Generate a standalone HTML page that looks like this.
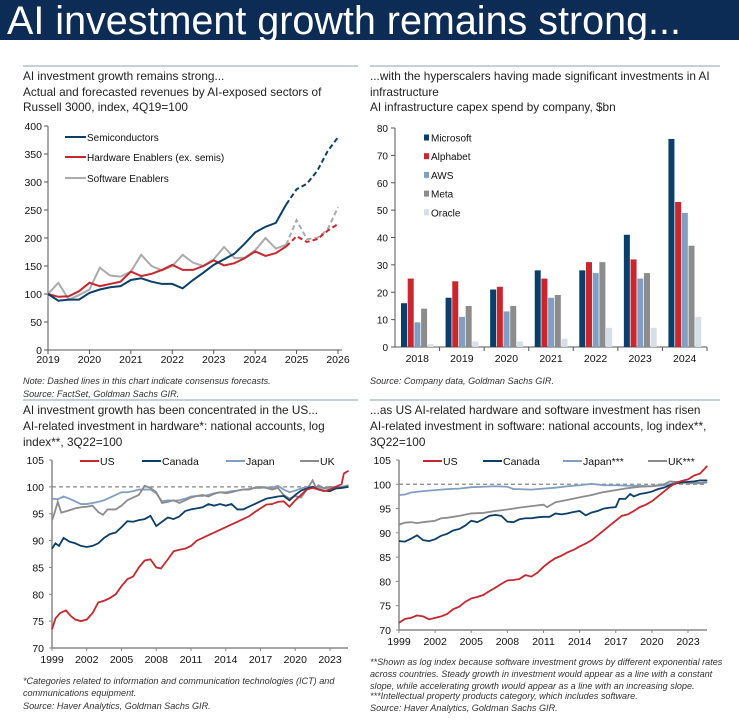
<!DOCTYPE html>
<html><head><meta charset="utf-8"><style>
body{margin:0;width:739px;height:719px;background:#fff;overflow:hidden;font-family:"Liberation Sans",Arial,sans-serif}
svg text{font-family:"Liberation Sans",Arial,sans-serif}
</style></head><body>
<svg id="s" width="739" height="719" xmlns="http://www.w3.org/2000/svg">
<rect x="0" y="0" width="739" height="40" fill="#0c2b55"/>
<text x="7" y="34" font-size="39.5" fill="#fff">AI investment growth remains strong...</text>

<g font-size="11.8" fill="#222">
<line x1="23" y1="66" x2="358" y2="66" stroke="#8aa0b8"/>
<text x="23" y="80">AI investment growth remains strong...</text>
<text x="23" y="96">Actual and forecasted revenues by AI-exposed sectors of</text>
<text x="23" y="111">Russell 3000, index, 4Q19=100</text>
</g>
<g font-size="11.8" fill="#222">
<line x1="370" y1="66" x2="720" y2="66" stroke="#8aa0b8"/>
<text x="370" y="80">...with the hyperscalers having made significant investments in AI</text>
<text x="370" y="96">infrastructure</text>
<text x="370" y="111">AI infrastructure capex spend by company, $bn</text>
</g>
<g font-size="11.8" fill="#222">
<line x1="23" y1="400" x2="358" y2="400" stroke="#8aa0b8"/>
<text x="23" y="414">AI investment growth has been concentrated in the US...</text>
<text x="23" y="430">AI-related investment in hardware*: national accounts, log</text>
<text x="23" y="446">index**, 3Q22=100</text>
</g>
<g font-size="11.8" fill="#222">
<line x1="370" y1="400" x2="720" y2="400" stroke="#8aa0b8"/>
<text x="370" y="414">...as US AI-related hardware and software investment has risen</text>
<text x="370" y="430">AI-related investment in software: national accounts, log index**,</text>
<text x="370" y="446">3Q22=100</text>
</g>

<g font-size="9.1" font-style="italic" fill="#333">
<text x="23" y="384">Note: Dashed lines in this chart indicate consensus forecasts.</text>
<text x="23" y="397">Source: FactSet, Goldman Sachs GIR.</text>
<text x="370" y="384">Source: Company data, Goldman Sachs GIR.</text>
<text x="23" y="684">*Categories related to information and communication technologies (ICT) and</text>
<text x="23" y="696">communications equipment.</text>
<text x="23" y="709">Source: Haver Analytics, Goldman Sachs GIR.</text>
<text x="370" y="665">**Shown as log index because software investment grows by different exponential rates</text>
<text x="370" y="677">across countries. Steady growth in investment would appear as a line with a constant</text>
<text x="370" y="689">slope, while accelerating growth would appear as a line with an increasing slope.</text>
<text x="370" y="699">***Intellectual property products category, which includes software.</text>
<text x="370" y="711">Source: Haver Analytics, Goldman Sachs GIR.</text>
</g>
</svg>
<script>
// ---- Panel 1 data (quarterly, 4Q19 .. 4Q26) ----
const p1Years=[2019,2020,2021,2022,2023,2024,2025,2026];
const p1Ticks=[0,50,100,150,200,250,300,350,400];
const p1Semis=[100,88,90,90,102,108,112,114,125,128,122,118,118,110,125,138,152,162,172,190,210,220,227,260,287,297,320,355,380];
const p1Hardware=[100,95,96,105,120,114,118,122,140,132,136,143,152,143,143,150,160,151,155,164,176,168,173,185,203,193,198,213,225];
const p1Software=[100,120,90,98,108,147,133,131,140,170,150,142,150,170,156,150,162,184,164,165,178,200,181,188,232,198,200,215,255];
const p1ForecastStart=23;
// ---- Panel 2 data ----
const p2Years=["2018","2019","2020","2021","2022","2023","2024"];
const p2Ticks=[0,10,20,30,40,50,60,70,80];
const p2Companies=["Microsoft","Alphabet","AWS","Meta","Oracle"];
const p2Microsoft=[16,18,21,28,28,41,76];
const p2Alphabet=[25,24,22,25,31,32,53];
const p2AWS=[9,11,13,18,27,25,49];
const p2Meta=[14,15,15,19,31,27,37];
const p2Oracle=[1,2,2,3,7,7,11];
// ---- Panel 3 data (hardware) ----
const p3Ticks=[70,75,80,85,90,95,100,105];
const p3XTicks=[1999,2002,2005,2008,2011,2014,2017,2020,2023];
const hwUSx=[1999,1999.3,1999.7,2000.2,2000.6,2001,2001.5,2002,2002.5,2003,2003.5,2004,2004.5,2005,2005.5,2006,2006.5,2007,2007.5,2008,2008.4,2009,2009.5,2010,2010.5,2011,2011.5,2012,2012.5,2013,2013.5,2014,2014.5,2015,2015.5,2016,2016.5,2017,2017.5,2018,2018.5,2019,2019.5,2020,2020.5,2021,2021.5,2022,2022.5,2023,2023.5,2024,2024.2,2024.6];
const hwUS=[73.5,75.5,76.5,77,76,75.3,75,75.3,76.5,78.5,78.8,79.3,80,81.5,82.8,83.3,85,86.3,86.5,85,84.8,86.5,88,88.3,88.5,89,90,90.5,91,91.5,92,92.5,93,93.5,94,94.5,95.3,96,96.7,96.8,97.2,97.3,96.3,97.5,98.5,99.5,99.8,99.5,99.2,99.5,100,100.5,102.5,103];
const hwCAx=[1999,1999.3,1999.6,2000,2000.5,2001,2001.5,2002,2002.5,2003,2003.5,2004,2004.5,2005,2005.5,2006,2006.5,2007,2007.5,2008,2008.5,2009,2009.5,2010,2010.5,2011,2011.5,2012,2012.5,2013,2013.5,2014,2014.5,2015,2015.5,2016,2016.5,2017,2017.5,2018,2018.5,2019,2019.5,2020,2020.5,2021,2021.5,2022,2022.5,2023,2023.5,2024,2024.6];
const hwCA=[88.5,89.5,89,90.5,89.8,89.5,89,88.8,89,89.5,90.5,91.2,91.5,92.5,93.6,93.5,93.8,94,94.6,92.7,93.5,94.3,94,94.5,95.5,95.8,96,96.2,96.8,96.5,96.8,96.5,96.8,95.8,95.8,96.3,96.8,97.3,97.8,98,98.2,98.3,97.5,98.5,99.3,99.7,100,99.5,99.3,99.2,99.7,99.8,100];
const hwJPx=[1999,1999.5,2000,2000.5,2001,2001.5,2002,2002.5,2003,2003.5,2004,2004.5,2005,2005.5,2006,2006.5,2007,2007.5,2008,2008.5,2009,2009.5,2010,2010.5,2011,2011.5,2012,2012.5,2013,2013.5,2014,2014.5,2015,2015.5,2016,2016.5,2017,2017.5,2018,2018.5,2019,2019.5,2020,2020.5,2021,2021.5,2022,2022.5,2023,2023.5,2024,2024.6];
const hwJP=[97.8,97.7,98.2,97.8,97.3,96.8,96.8,97,97.2,97.5,98,98.5,99,99,99.2,99.5,99.5,99.5,98.8,97.3,97.5,97.4,97.5,97.8,98.2,98.3,98.3,98.5,98.8,99,99,99.2,99.3,99.5,99.6,99.8,99.8,99.9,99.8,100.2,99.5,99,99.3,99.7,100,100,99.8,99.8,99.8,99.9,100,100];
const hwUKx=[1999,1999.2,1999.5,1999.8,2000.3,2001,2001.5,2002,2002.5,2003,2003.4,2003.8,2004.5,2005,2005.5,2006,2006.5,2007,2007.5,2008,2008.5,2009,2009.5,2010,2010.5,2011,2011.5,2012,2012.5,2013,2013.5,2014,2014.5,2015,2015.5,2016,2016.5,2017,2017.5,2018,2018.5,2019,2019.5,2020,2020.5,2021,2021.5,2021.8,2022,2022.5,2023,2023.5,2024,2024.6];
const hwUK=[93.8,95,97.2,95.2,95.5,96,96.2,96.3,96.5,95.3,94.8,95.8,95.8,96.5,97.5,98,98.5,100.2,99.8,99,97,97.2,97.5,97,97.5,98,98.3,98.5,98.2,98.7,99,98.8,99,99.3,99.5,99.5,99.8,100,99.8,99.5,99.8,98.5,97.8,98.3,98,99.5,101.2,99.8,100.3,99.7,100,99.8,100,100.3];
// ---- Panel 4 data (software) ----
const swUSx=[1999,1999.5,2000,2000.5,2001,2001.5,2002,2002.5,2003,2003.5,2004,2004.5,2005,2005.5,2006,2006.5,2007,2007.5,2008,2008.5,2009,2009.5,2010,2010.5,2011,2011.5,2012,2012.5,2013,2013.5,2014,2014.5,2015,2015.5,2016,2016.5,2017,2017.5,2018,2018.5,2019,2019.5,2020,2020.5,2021,2021.5,2022,2022.5,2023,2023.5,2024,2024.6];
const swUS=[71.5,72.3,72.5,73,72.8,72.2,72.5,72.8,73.3,74.3,74.8,75.8,76.5,76.8,77.2,78,78.7,79.5,80.2,80.3,80.5,81.3,81,81.8,83,84,84.8,85.3,86,86.5,87.2,87.8,88.5,89.5,90.5,91.5,92.5,93.5,93.8,94.5,95.3,95.8,96.5,97.5,98.5,99.5,100.3,100.7,101,101.8,102.2,103.8];
const swCAx=[1999,1999.5,2000,2000.5,2001,2001.5,2002,2002.5,2003,2003.5,2004,2004.5,2005,2005.5,2006,2006.5,2007,2007.5,2008,2008.5,2009,2009.5,2010,2010.5,2011,2011.5,2012,2012.5,2013,2013.5,2014,2014.5,2015,2015.5,2016,2016.5,2017,2017.3,2017.8,2018.2,2018.5,2019,2019.5,2020,2020.5,2021,2021.5,2022,2022.5,2023,2023.5,2024,2024.6];
const swCA=[88.3,88.2,88.8,89.5,88.5,88.3,88.7,89.4,89.8,90.5,90.8,91.5,92.5,92.2,92.8,93.5,93.7,93.5,92.3,92.2,92.8,93,93,93.2,93.3,93.3,94,93.8,94,94.3,94.5,93.6,94.2,94.5,95,95.2,95.3,97,97,98,97.5,98,98.2,98.5,99,99.3,99.8,100.2,100.4,100.5,100.6,100.8,100.8];
const swJPx=[1999,1999.5,2000,2001,2002,2003,2004,2005,2006,2007,2008,2008.5,2009,2010,2011,2012,2013,2014,2015,2016,2017,2018,2019,2020,2021,2022,2023,2024,2024.6];
const swJP=[97.8,97.9,98.3,98.6,98.8,99,99.1,99.4,99.5,99.6,99.5,99,99,98.9,99.1,99.3,99.6,99.8,100.1,99.8,99.8,99.7,99.7,99.6,99.8,100.3,100.3,100.3,100.4];
const swUKx=[1999,1999.5,2000,2000.5,2001,2002,2002.5,2003,2004,2005,2006,2007,2008,2009,2010,2011,2011.3,2012,2013,2014,2015,2016,2017,2018,2019,2020,2021,2021.5,2022,2023,2024,2024.6];
const swUK=[91.7,92.1,92.2,92,92.2,92.5,93,93.1,93.5,94,94.1,94.5,94.8,95.2,95.5,95.8,95.3,96.3,96.8,97.3,97.8,98.4,98.8,99.2,99.5,99.6,100,100.6,100.5,100.3,100.2,100.4];

const NS="http://www.w3.org/2000/svg";
const svg=document.getElementById('s');
function mk(tag,attrs,parent){const e=document.createElementNS(NS,tag);for(const k in attrs)e.setAttribute(k,attrs[k]);(parent||svg).appendChild(e);return e;}
function txt(x,y,s,anchor,size,parent){const t=mk('text',{x:x,y:y,'font-size':size||10.5,'text-anchor':anchor||'middle',fill:'#111'},parent);t.textContent=s;return t;}

const NAVY="#0b3f6b",RED="#c9262d",LBLUE="#809fc3",GRAY="#8c8c8c",LGRAY="#ababab",PALE="#d6dee8";

// ===== Panel 1 =====
(function(){
const g=mk('g',{});


const X0=48,X1=338,Y0=350,Y1=126;
const xs=i=>X0+(X1-X0)*i/28;
const ys=v=>Y0-(Y0-Y1)*v/400;
mk('line',{x1:X0,y1:Y1,x2:X0,y2:Y0,stroke:'#555'},g);
mk('line',{x1:X0,y1:Y0,x2:X1+4,y2:Y0,stroke:'#555'},g);
p1Ticks.forEach(v=>{mk('line',{x1:X0-4,y1:ys(v),x2:X0,y2:ys(v),stroke:'#555'},g);
 const t=txt(X0-6,ys(v)+4,String(v),'end',10.5,g);});
p1Years.forEach((y,i)=>{const x=X0+(X1-X0)*i/7;mk('line',{x1:x,y1:Y0,x2:x,y2:Y0+4,stroke:'#555'},g);
 const t=txt(x,Y0+13,String(y),'middle',10.5,g);});
function series(arr,col,name){
 const a=arr.slice(0,p1ForecastStart+1).map((v,i)=>xs(i)+','+ys(v)).join(' ');
 const b=arr.slice(p1ForecastStart).map((v,i)=>xs(i+p1ForecastStart)+','+ys(v)).join(' ');
 const l1=mk('polyline',{points:a,fill:'none',stroke:col,'stroke-width':2},g);
 
 const l2=mk('polyline',{points:b,fill:'none',stroke:col,'stroke-width':2,'stroke-dasharray':'5,3'},g);
 
}
series(p1Software,LGRAY,'software-enablers');
series(p1Hardware,RED,'hardware-enablers');
series(p1Semis,NAVY,'semiconductors');
[["Semiconductors",NAVY,137],["Hardware Enablers (ex. semis)",RED,157],["Software Enablers",LGRAY,178]].forEach(l=>{
 const e=mk('g',{},g);
 mk('line',{x1:65,y1:l[2],x2:86,y2:l[2],stroke:l[1],'stroke-width':2},e);txt(87,l[2]+4,l[0],'start',10,e);});
})();

// ===== Panel 2 =====
(function(){
const g=mk('g',{});


const X0=395,X1=707,Y0=347,Y1=128;
const ys=v=>Y0-(Y0-Y1)*v/80;
const gw=(X1-X0)/p2Years.length;
mk('line',{x1:X0,y1:Y1,x2:X0,y2:Y0,stroke:'#555'},g);
mk('line',{x1:X0,y1:Y0,x2:X1,y2:Y0,stroke:'#555'},g);
p2Ticks.forEach(v=>{mk('line',{x1:X0-4,y1:ys(v),x2:X0,y2:ys(v),stroke:'#555'},g);
 const t=txt(X0-7,ys(v)+4,String(v),'end',10,g);});
const series=[p2Microsoft,p2Alphabet,p2AWS,p2Meta,p2Oracle];
const cols=[NAVY,RED,LBLUE,GRAY,PALE];
p2Years.forEach((y,i)=>{
 const gx=X0+gw*i;
 mk('line',{x1:gx+gw,y1:Y0,x2:gx+gw,y2:Y0+4,stroke:'#555'},g);
 const t=txt(gx+gw/2,Y0+15,y,'middle',10.5,g);
 series.forEach((s,k)=>{
  const r=mk('rect',{x:gx+6+k*6.7,y:ys(s[i]),width:6,height:Y0-ys(s[i]),fill:cols[k]},g);
  
  
 });
});
p2Companies.forEach((c,k)=>{const yy=138+k*18.7;
 const e=mk('g',{},g);
 mk('rect',{x:424,y:yy-3.5,width:5,height:6,fill:cols[k]},e);txt(431,yy+3.5,c,'start',10,e);});
})();

// ===== Panels 3 & 4 =====
function linePanel(cfg){
const g=mk('g',{});


const {X0,X1,Y0,Y1}=cfg;
const xs=yr=>X0+(X1-X0)*(yr-1999)/24;
const ys=v=>Y0-(Y0-Y1)*(v-70)/35;
mk('line',{x1:X0,y1:Y1,x2:X0,y2:Y0,stroke:'#888','stroke-width':1.5},g);
mk('line',{x1:X0,y1:Y0,x2:cfg.XE,y2:Y0,stroke:'#888','stroke-width':1.5},g);
mk('line',{x1:X0,y1:ys(100),x2:cfg.XE,y2:ys(100),stroke:'#888','stroke-width':1.2,'stroke-dasharray':'4,3'},g);
p3Ticks.forEach(v=>{mk('line',{x1:X0-3,y1:ys(v),x2:X0,y2:ys(v),stroke:'#888'},g);
 const t=txt(X0-8,ys(v)+4,String(v),'end',10.5,g);});
p3XTicks.forEach(y=>{mk('line',{x1:xs(y),y1:Y0,x2:xs(y),y2:Y0+3,stroke:'#888'},g);
 const t=txt(xs(y),Y0+15,String(y),'middle',10.5,g);});
cfg.series.forEach(s=>{
 const l=mk('polyline',{points:s.x.map((yr,i)=>xs(yr)+','+ys(s.y[i])).join(' '),fill:'none',stroke:s.c,'stroke-width':1.8},g);
 
});
cfg.legend.forEach(l=>{
 const e=mk('g',{},g);
 mk('line',{x1:l[2],y1:461,x2:l[2]+19,y2:461,stroke:l[1],'stroke-width':2},e);txt(l[2]+20,465,l[0],'start',10.5,e);});
}
linePanel({name:'hardware-line-chart',X0:52,X1:330,XE:348,Y0:648,Y1:460,
 series:[{x:hwJPx,y:hwJP,c:LBLUE,n:'japan'},{x:hwUKx,y:hwUK,c:GRAY,n:'uk'},{x:hwCAx,y:hwCA,c:NAVY,n:'canada'},{x:hwUSx,y:hwUS,c:RED,n:'us'}],
 legend:[["US",RED,80],["Canada",NAVY,142],["Japan",LBLUE,226],["UK",GRAY,300]]});
linePanel({name:'software-line-chart',X0:399,X1:688,XE:707,Y0:630,Y1:460,
 series:[{x:swJPx,y:swJP,c:LBLUE,n:'japan'},{x:swUKx,y:swUK,c:GRAY,n:'uk'},{x:swCAx,y:swCA,c:NAVY,n:'canada'},{x:swUSx,y:swUS,c:RED,n:'us'}],
 legend:[["US",RED,423],["Canada",NAVY,483],["Japan***",LBLUE,563],["UK***",GRAY,648]]});
</script>
</body></html>
